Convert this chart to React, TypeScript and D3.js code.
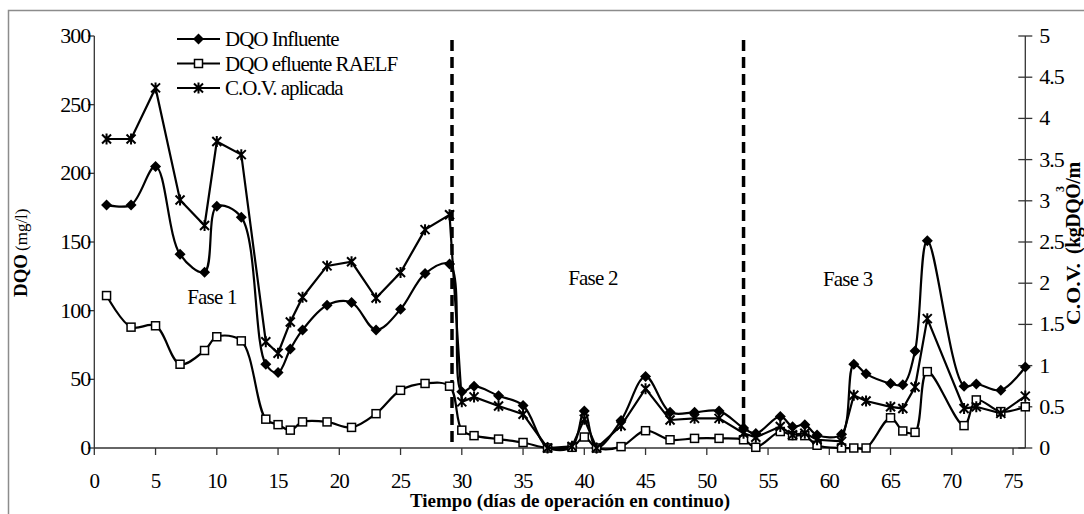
import React, { useEffect, useRef } from "react";
import * as d3 from "d3";

// días de operación
const days = [
  1, 3, 5, 7, 9, 10, 12, 14, 15, 16, 17, 19, 21, 23, 25, 27, 29, 30, 31, 33, 35,
  37, 39, 40, 41, 43, 45, 47, 49, 51, 53, 54, 56, 57, 58, 59, 61, 62, 63, 65, 66,
  67, 68, 71, 72, 74, 76,
];
// DQO influente (mg/l)
const dqoInfluente = [
  177, 177, 205, 141, 128, 176, 168, 61, 55, 72, 86, 104, 106, 86, 101, 127, 134,
  41, 45, 38, 31, 0.5, 1, 27, 0, 20, 52, 26, 26, 27, 14.5, 10.5, 23, 15.5, 17,
  9.5, 10, 61, 54, 47, 46, 70.6, 151, 45, 46.6, 42, 59,
];
// DQO efluente RAELF (mg/l)
const dqoEfluente = [
  111, 88, 89, 61, 71, 81, 78, 21, 17, 13, 19, 19, 15, 25, 42, 47, 45, 13, 9,
  6.5, 4, 0, 0.5, 8, 0, 1, 12.6, 6, 7, 7, 6, 0.5, 12, 9, 9, 2, 0, 0, 0, 22, 12.4,
  11.4, 55.6, 16.3, 35, 26.5, 30,
];
// C.O.V. aplicada (kgDQO/m3d)
const cov = [
  3.75, 3.75, 4.37, 3.01, 2.7, 3.72, 3.56, 1.29, 1.15, 1.53, 1.83, 2.21, 2.26,
  1.82, 2.13, 2.65, 2.83, 0.56, 0.62, 0.51, 0.41, 0, 0.02, 0.35, 0, 0.27, 0.72,
  0.34, 0.36, 0.36, 0.18, 0.13, 0.26, 0.16, 0.18, 0.1, 0.08, 0.64, 0.57, 0.5,
  0.48, 0.74, 1.57, 0.48, 0.5, 0.42, 0.63,
];

const phaseBreaks = [29.2, 53];
const phaseLabels = [
  { text: "Fase 1", day: 9.6, value: 105 },
  { text: "Fase 2", day: 40.7, value: 119 },
  { text: "Fase 3", day: 61.5, value: 118 },
];
const legendLabels = ["DQO Influente", "DQO efluente RAELF", "C.O.V. aplicada"];

const leftTicks = d3.range(0, 301, 50);
const rightTicks = d3.range(0, 5.01, 0.5);
const xTicks = d3.range(0, 76, 5);

const FONT = "'Liberation Serif', 'Times New Roman', serif";

const diamond = "M0,-5.5L5.5,0L0,5.5L-5.5,0Z";
const star = "M-4.5,-4.5L4.5,4.5M-4.5,4.5L4.5,-4.5M0,-5.5L0,5.5";

const Chart = () => {
  const svgRef = useRef(null);

  useEffect(() => {
    const svg = d3.select(svgRef.current);
    svg.selectAll("*").remove();

    const x = d3.scaleLinear().domain([0, 76]).range([94.3, 1025.3]);
    const yL = d3.scaleLinear().domain([0, 300]).range([448, 36]);
    const yR = d3.scaleLinear().domain([0, 5]).range([448, 36]);

    // marco
    svg
      .append("rect")
      .attr("x", 8.5)
      .attr("y", 10.5)
      .attr("width", 1200)
      .attr("height", 600)
      .attr("fill", "none")
      .attr("stroke", "#8c8c8c")
      .attr("stroke-width", 1.5);

    const defs = svg.append("defs");
    defs
      .append("clipPath")
      .attr("id", "clipL")
      .append("rect")
      .attr("x", 0)
      .attr("y", 196)
      .attr("width", 60)
      .attr("height", 200);
    defs
      .append("clipPath")
      .attr("id", "clipR")
      .append("rect")
      .attr("x", 1040)
      .attr("y", 160)
      .attr("width", 60)
      .attr("height", 200);

    // ejes
    const axisColor = "#333";
    const axisLine = (x1, y1, x2, y2) =>
      svg
        .append("line")
        .attr("x1", x1)
        .attr("x2", x2)
        .attr("y1", y1)
        .attr("y2", y2)
        .attr("stroke", axisColor)
        .attr("stroke-width", 1.3);

    axisLine(x(0), yL(300), x(0), yL(0));
    axisLine(x(0), yL(0), x(76), yL(0));
    axisLine(x(76), yR(5), x(76), yR(0));

    leftTicks.forEach((t) => {
      axisLine(x(0) - 6, yL(t), x(0), yL(t));
      svg
        .append("text")
        .attr("x", x(0) - 4)
        .attr("y", yL(t) + 7)
        .attr("text-anchor", "end")
        .style("font-family", FONT)
        .style("font-size", "22px")
        .style("letter-spacing", "-1px")
        .text(t);
    });

    rightTicks.forEach((t) => {
      axisLine(x(76) - 7, yR(t), x(76) + 7, yR(t));
      svg
        .append("text")
        .attr("x", x(76) + 14)
        .attr("y", yR(t) + 7)
        .style("font-family", FONT)
        .style("font-size", "22px")
        .style("letter-spacing", "-1px")
        .text(t);
    });

    xTicks.forEach((t) => {
      axisLine(x(t), yL(0), x(t), yL(0) + 7);
      svg
        .append("text")
        .attr("x", x(t))
        .attr("y", 488)
        .attr("text-anchor", "middle")
        .style("font-family", FONT)
        .style("font-size", "21px")
        .style("letter-spacing", "-1px")
        .text(t);
    });

    // títulos de ejes
    svg
      .append("text")
      .attr("x", 570)
      .attr("y", 507)
      .attr("text-anchor", "middle")
      .attr("textLength", 320)
      .attr("lengthAdjust", "spacingAndGlyphs")
      .style("font-family", FONT)
      .style("font-size", "18px")
      .style("font-weight", "bold")
      .text("Tiempo (días de operación en continuo)");

    const lg = svg.append("g").attr("clip-path", "url(#clipL)");
    lg.append("text")
      .attr("transform", "translate(27,297) rotate(-90)")
      .attr("textLength", 43)
      .attr("lengthAdjust", "spacingAndGlyphs")
      .style("font-family", FONT)
      .style("font-size", "18px")
      .style("font-weight", "bold")
      .text("DQO");
    lg.append("text")
      .attr("transform", "translate(27,251) rotate(-90)")
      .style("font-family", FONT)
      .style("font-size", "17px")
      .text("(mg/l)");

    const rg = svg.append("g").attr("clip-path", "url(#clipR)");
    rg.append("text")
      .attr("transform", "translate(1080,325) rotate(-90)")
      .attr("textLength", 62)
      .attr("lengthAdjust", "spacingAndGlyphs")
      .style("font-family", FONT)
      .style("font-size", "19px")
      .style("font-weight", "bold")
      .text("C.O.V.");
    rg.append("text")
      .attr("transform", "translate(1080,254) rotate(-90)")
      .style("font-family", FONT)
      .style("font-size", "20px")
      .style("font-weight", "bold")
      .style("letter-spacing", "-0.5px")
      .text("(kgDQO/m d)");
    rg.append("text")
      .attr("transform", "translate(1064,192) rotate(-90)")
      .style("font-family", FONT)
      .style("font-size", "12px")
      .style("font-weight", "bold")
      .text("3");

    // líneas de fase
    phaseBreaks.forEach((d) => {
      svg
        .append("line")
        .attr("x1", x(d))
        .attr("x2", x(d))
        .attr("y1", 40)
        .attr("y2", yL(0))
        .attr("stroke", "#000")
        .attr("stroke-width", 3.5)
        .attr("stroke-dasharray", "11,6");
    });

    phaseLabels.forEach((p) => {
      svg
        .append("text")
        .attr("x", x(p.day))
        .attr("y", yL(p.value))
        .attr("text-anchor", "middle")
        .style("font-family", FONT)
        .style("font-size", "21px")
        .style("letter-spacing", "-0.8px")
        .text(p.text);
    });

    // series (las DQO suavizadas, la C.O.V. en tramos rectos)
    const series = [
      { values: dqoInfluente, y: yL, marker: "diamond", curve: d3.curveCatmullRom.alpha(0.5) },
      { values: dqoEfluente, y: yL, marker: "square", curve: d3.curveCatmullRom.alpha(0.5) },
      { values: cov, y: yR, marker: "star", curve: d3.curveLinear },
    ];

    const drawMarker = (g, kind, px, py) => {
      if (kind === "diamond") {
        g.append("path")
          .attr("d", diamond)
          .attr("transform", `translate(${px},${py})`)
          .attr("fill", "#000");
      } else if (kind === "square") {
        g.append("rect")
          .attr("x", px - 4)
          .attr("y", py - 4)
          .attr("width", 8)
          .attr("height", 8)
          .attr("fill", "#fff")
          .attr("stroke", "#000")
          .attr("stroke-width", 1.5);
      } else {
        g.append("path")
          .attr("d", star)
          .attr("transform", `translate(${px},${py})`)
          .attr("fill", "none")
          .attr("stroke", "#000")
          .attr("stroke-width", 2);
      }
    };

    series.forEach((s) => {
      const pts = days.map((d, i) => [x(d), s.y(s.values[i])]);
      const line = d3.line().curve(s.curve);
      const g = svg.append("g");
      g.append("path")
        .attr("d", line(pts))
        .attr("fill", "none")
        .attr("stroke", "#000")
        .attr("stroke-width", 2.2);
      pts.forEach(([px, py]) => drawMarker(g, s.marker, px, py));
    });

    // leyenda
    legendLabels.forEach((label, i) => {
      const ly = 39 + i * 24.5;
      const g = svg.append("g");
      g.append("line")
        .attr("x1", 177)
        .attr("x2", 220)
        .attr("y1", ly)
        .attr("y2", ly)
        .attr("stroke", "#000")
        .attr("stroke-width", 2.2);
      drawMarker(g, series[i].marker, 198.5, ly);
      g.append("text")
        .attr("x", 225)
        .attr("y", ly + 7)
        .style("font-family", FONT)
        .style("font-size", "21px")
        .style("letter-spacing", "-1px")
        .text(label);
    });
  }, []);

  return (
    <svg
      ref={svgRef}
      width={1084}
      height={514}
      style={{ position: "absolute", left: 0, top: 0, background: "#fff" }}
    />
  );
};

export default function App() {
  return <Chart />;
}
